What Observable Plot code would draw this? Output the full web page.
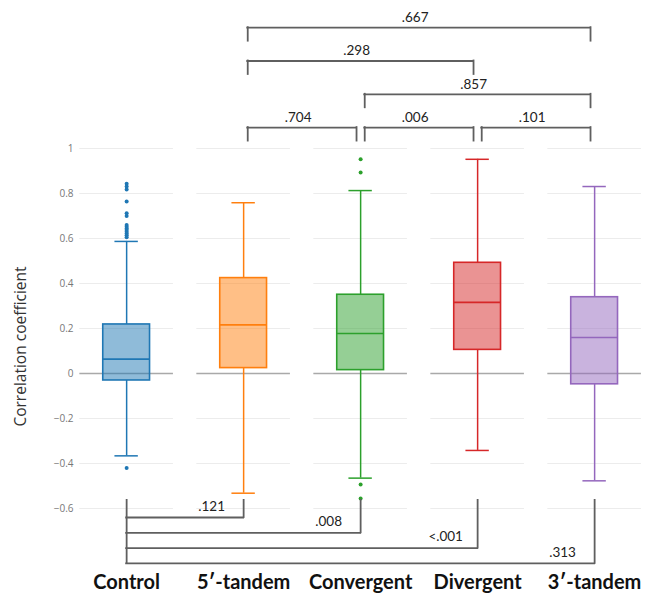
<!DOCTYPE html>
<html><head><meta charset="utf-8">
<script src="https://cdn.jsdelivr.net/npm/d3@7"></script>
<script src="https://cdn.jsdelivr.net/npm/@observablehq/plot@0.6"></script>
<style>body{margin:0;background:#fff;} #chart svg{display:block}</style>
</head><body><div id="chart"></div>
<script>
// ---- data ----
const categories = ["Control", "5\u2032-tandem", "Convergent", "Divergent", "3\u2032-tandem"];
const lowerWhisker = [-0.366, -0.532, -0.465, -0.342, -0.477];
const q1           = [-0.031,  0.024,  0.015,  0.105, -0.048];
const median       = [ 0.064,  0.216,  0.178,  0.316,  0.160];
const q3           = [ 0.218,  0.424,  0.350,  0.492,  0.339];
const upperWhisker = [ 0.587,  0.759,  0.813,  0.952,  0.831];
const outlierCategory = ["Control","Control","Control","Control","Control","Control","Control","Control","Control","Control","Control","Control","Control","Control","Control",
  "Convergent","Convergent","Convergent","Convergent"];
const outlierValue = [0.843, 0.831, 0.818, 0.764, 0.712, 0.700, 0.660, 0.652, 0.645, 0.638, 0.630, 0.622, 0.614, 0.606, -0.420,
  0.952, 0.893, -0.493, -0.556];
const yTicks = [-0.6, -0.4, -0.2, 0, 0.2, 0.4, 0.6, 0.8, 1];
const palette = ["#1f77b4", "#ff7f0e", "#2ca02c", "#d62728", "#9467bd"];
// pairwise comparison brackets (p values)
const topFrom = ["5\u2032-tandem", "5\u2032-tandem", "Convergent", "5\u2032-tandem", "Convergent", "Divergent"];
const topTo   = ["3\u2032-tandem", "Divergent", "3\u2032-tandem", "Convergent", "Divergent", "3\u2032-tandem"];
const topTier = [3, 2, 1, 0, 0, 0];
const topP    = [".667", ".298", ".857", ".704", ".006", ".101"];
const bottomTo   = ["5\u2032-tandem", "Convergent", "Divergent", "3\u2032-tandem"];
const bottomTier = [0, 1, 2, 3];
const bottomP    = [".121", ".008", "<.001", ".313"];
const yLabel = "Correlation coefficient";

// ---- derived tables ----
const idx = c => categories.indexOf(c);
const boxes = categories.map((c, i) => ({cat: c, i, lo: lowerWhisker[i], q1: q1[i], med: median[i], q3: q3[i], hi: upperWhisker[i]}));
const outliers = outlierCategory.map((c, k) => ({cat: c, i: idx(c), v: outlierValue[k]}));
const HALF_BOX = 0.2, HALF_CAP = 0.1, HALF_SEG = 0.4;
const gridRows = categories.flatMap((c, i) => yTicks.filter(t => t !== 0).map(t => ({i, t})));
const zeroRows = categories.map((c, i) => ({i}));
const TOP_BASE = 1.093, TOP_STEP = 0.148, DROP = 0.06, SHIFT = 0.035;
const BOT_BASE = -0.64, BOT_STEP = 0.068, BOT_TOP = -0.564;
const topRows = topFrom.map((f, k) => ({a: idx(f), b: idx(topTo[k]), lvl: TOP_BASE + topTier[k] * TOP_STEP, p: topP[k]}));
const botRows = bottomTo.map((t, k) => ({a: idx("Control"), b: idx(t), lvl: BOT_BASE - bottomTier[k] * BOT_STEP, p: bottomP[k]}));
const botLowest = d3.min(botRows, d => d.lvl);

const BR = "#5f5f5f";
const brStyle = {stroke: BR, strokeWidth: 1.8, strokeLinecap: "square"};
const wStyle = {stroke: "cat", strokeWidth: 1.5};

const chart = Plot.plot({
  width: 648, height: 596,
  marginTop: 4, marginBottom: 29.5, marginLeft: 77, marginRight: 2.4,
  x: {domain: [-0.42, 4.44], axis: null, label: null},
  y: {domain: [-0.86, 1.64], axis: null, label: null},
  color: {domain: categories, range: palette},
  style: {fontFamily: "Lato, sans-serif", background: "#fff"},
  marks: [
    Plot.ruleY(gridRows, {y: "t", x1: d => d.i - HALF_SEG, x2: d => d.i + HALF_SEG, stroke: "#ececec", strokeWidth: 1}),
    Plot.ruleY(zeroRows, {y: () => 0, x1: d => d.i - HALF_SEG, x2: d => d.i + HALF_SEG, stroke: "#a9a9a9", strokeWidth: 1.6}),
    // whiskers and caps
    Plot.ruleX(boxes, {x: "i", y1: "lo", y2: "q1", ...wStyle}),
    Plot.ruleX(boxes, {x: "i", y1: "q3", y2: "hi", ...wStyle}),
    Plot.ruleY(boxes, {y: "lo", x1: d => d.i - HALF_CAP, x2: d => d.i + HALF_CAP, ...wStyle}),
    Plot.ruleY(boxes, {y: "hi", x1: d => d.i - HALF_CAP, x2: d => d.i + HALF_CAP, ...wStyle}),
    // boxes
    Plot.rect(boxes, {x1: d => d.i - HALF_BOX, x2: d => d.i + HALF_BOX, y1: "q1", y2: "q3", fill: "cat", fillOpacity: 0.5, stroke: "cat", strokeWidth: 1.6}),
    Plot.ruleY(boxes, {y: "med", x1: d => d.i - HALF_BOX, x2: d => d.i + HALF_BOX, stroke: "cat", strokeWidth: 1.6}),
    Plot.dot(outliers, {x: "i", y: "v", r: 2, fill: "cat", stroke: "none"}),
    // top brackets
    Plot.ruleY(topRows, {y: "lvl", x1: d => d.a + SHIFT, x2: d => d.b - SHIFT, ...brStyle}),
    Plot.ruleX(topRows, {x: d => d.a + SHIFT, y1: "lvl", y2: d => d.lvl - DROP, ...brStyle}),
    Plot.ruleX(topRows, {x: d => d.b - SHIFT, y1: "lvl", y2: d => d.lvl - DROP, ...brStyle}),
    Plot.text(topRows, {x: d => (d.a + d.b) / 2, y: "lvl", text: "p", dx: -4, dy: -10, fontSize: 13.5, fill: "#222"}),
    // bottom brackets
    Plot.ruleY(botRows, {y: "lvl", x1: "a", x2: "b", ...brStyle}),
    Plot.ruleX(botRows, {x: "b", y1: "lvl", y2: () => BOT_TOP, ...brStyle}),
    Plot.ruleX([botRows[0]], {x: "a", y1: () => BOT_TOP, y2: () => botLowest, ...brStyle}),
    Plot.text(botRows, {x: "b", y: "lvl", text: "p", dx: -32, dy: -11, fontSize: 13.5, fill: "#222"}),
    // axes
    Plot.axisY(yTicks, {tickSize: 0, tickPadding: 4, tickFormat: d3.format("~g"), fontSize: 10, fill: "#777", fontFamily: "Open Sans, sans-serif", label: null}),
    Plot.axisX(categories.map((c, i) => i), {tickSize: 0, tickPadding: 8, tickFormat: i => categories[i], fontSize: 20, fontWeight: "bold", fill: "#111", label: null}),
    Plot.text([yLabel], {frameAnchor: "left", y: () => 0.12, dx: -56, rotate: -90, textAnchor: "middle", fontSize: 15.5, fontFamily: "Open Sans, sans-serif", fill: "#333"})
  ]
});
document.getElementById("chart").append(chart);
</script>
</body></html>
